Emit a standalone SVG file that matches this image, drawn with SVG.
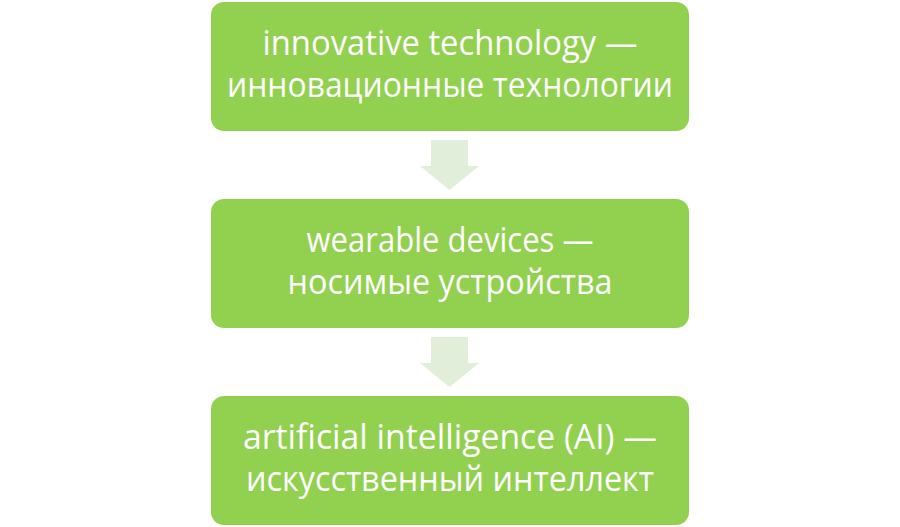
<svg xmlns="http://www.w3.org/2000/svg" width="900" height="527" viewBox="0 0 900 527">
<style>
.box{fill:#92D050}
.arr{fill:#E1EED9}
.t{font-family:"Open Sans","Liberation Sans",sans-serif;font-size:34px;fill:#FFFFFF;text-anchor:middle}
</style>
<rect width="900" height="527" fill="#FFFFFF"/>
<g id="connectors">
<polygon class="arr" points="431,140 468,140 468,166 479,166 449.5,190 420,166 431,166"/>
<polygon class="arr" points="431,337 468,337 468,363 479,363 449.5,387 420,363 431,363"/>
</g>
<g id="node1">
<rect class="box" x="211" y="2" width="478" height="129" rx="13"/>
<text class="t" x="450" y="55" textLength="375" lengthAdjust="spacingAndGlyphs">innovative technology —</text>
<text class="t" x="450" y="97" textLength="446" lengthAdjust="spacingAndGlyphs">инновационные технологии</text>
</g>
<g id="node2">
<rect class="box" x="211" y="199" width="478" height="129" rx="13"/>
<text class="t" x="450" y="252" textLength="287" lengthAdjust="spacingAndGlyphs">wearable devices —</text>
<text class="t" x="450" y="294" textLength="325" lengthAdjust="spacingAndGlyphs">носимые устройства</text>
</g>
<g id="node3">
<rect class="box" x="211" y="396" width="478" height="129" rx="13"/>
<text class="t" x="450" y="449" textLength="414" lengthAdjust="spacingAndGlyphs">artificial intelligence (AI) —</text>
<text class="t" x="450" y="491" textLength="408" lengthAdjust="spacingAndGlyphs">искусственный интеллект</text>
</g>
</svg>
